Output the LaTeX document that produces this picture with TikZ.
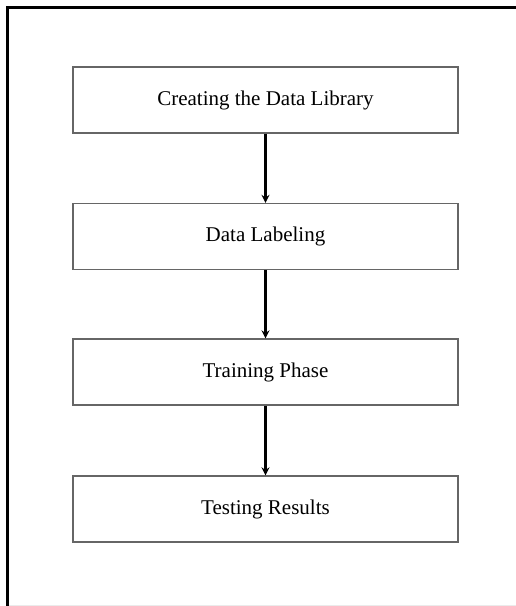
\documentclass[tikz,border=0pt]{standalone}
\usepackage{fontspec}
\setmainfont{Liberation Serif}
\usetikzlibrary{arrows.meta}
\begin{document}
\begin{tikzpicture}[x=1pt,y=-1pt,
  stagebox/.style={draw=black!60, line width=1.3pt, minimum width=385pt, minimum height=66pt,
    inner sep=0pt, font=\fontsize{21}{24}\selectfont},
  flow/.style={line width=2.6pt, -{Stealth[length=8pt,width=8pt]}}]
  \useasboundingbox (0,0) rectangle (516,606);
  % frame: heavy top and left rules, faint bottom rule
  \draw[line width=3.8pt, line cap=rect] (7.5,606) -- (7.5,7.5) -- (516,7.5);
  \draw[black!8, line width=1pt] (9,605) -- (516,605);
  % stages
  \node[stagebox] (lib)  at (265.5,100) {Creating the Data Library};
  \node[stagebox] (lab)  at (265.5,236.5) {Data Labeling};
  \node[stagebox] (train) at (265.5,372) {Training Phase};
  \node[stagebox] (test) at (265.5,509) {Testing Results};
  % connectors
  \draw[flow] (lib) -- (lab);
  \draw[flow] (lab) -- (train);
  \draw[flow] (train) -- (test);
\end{tikzpicture}
\end{document}
